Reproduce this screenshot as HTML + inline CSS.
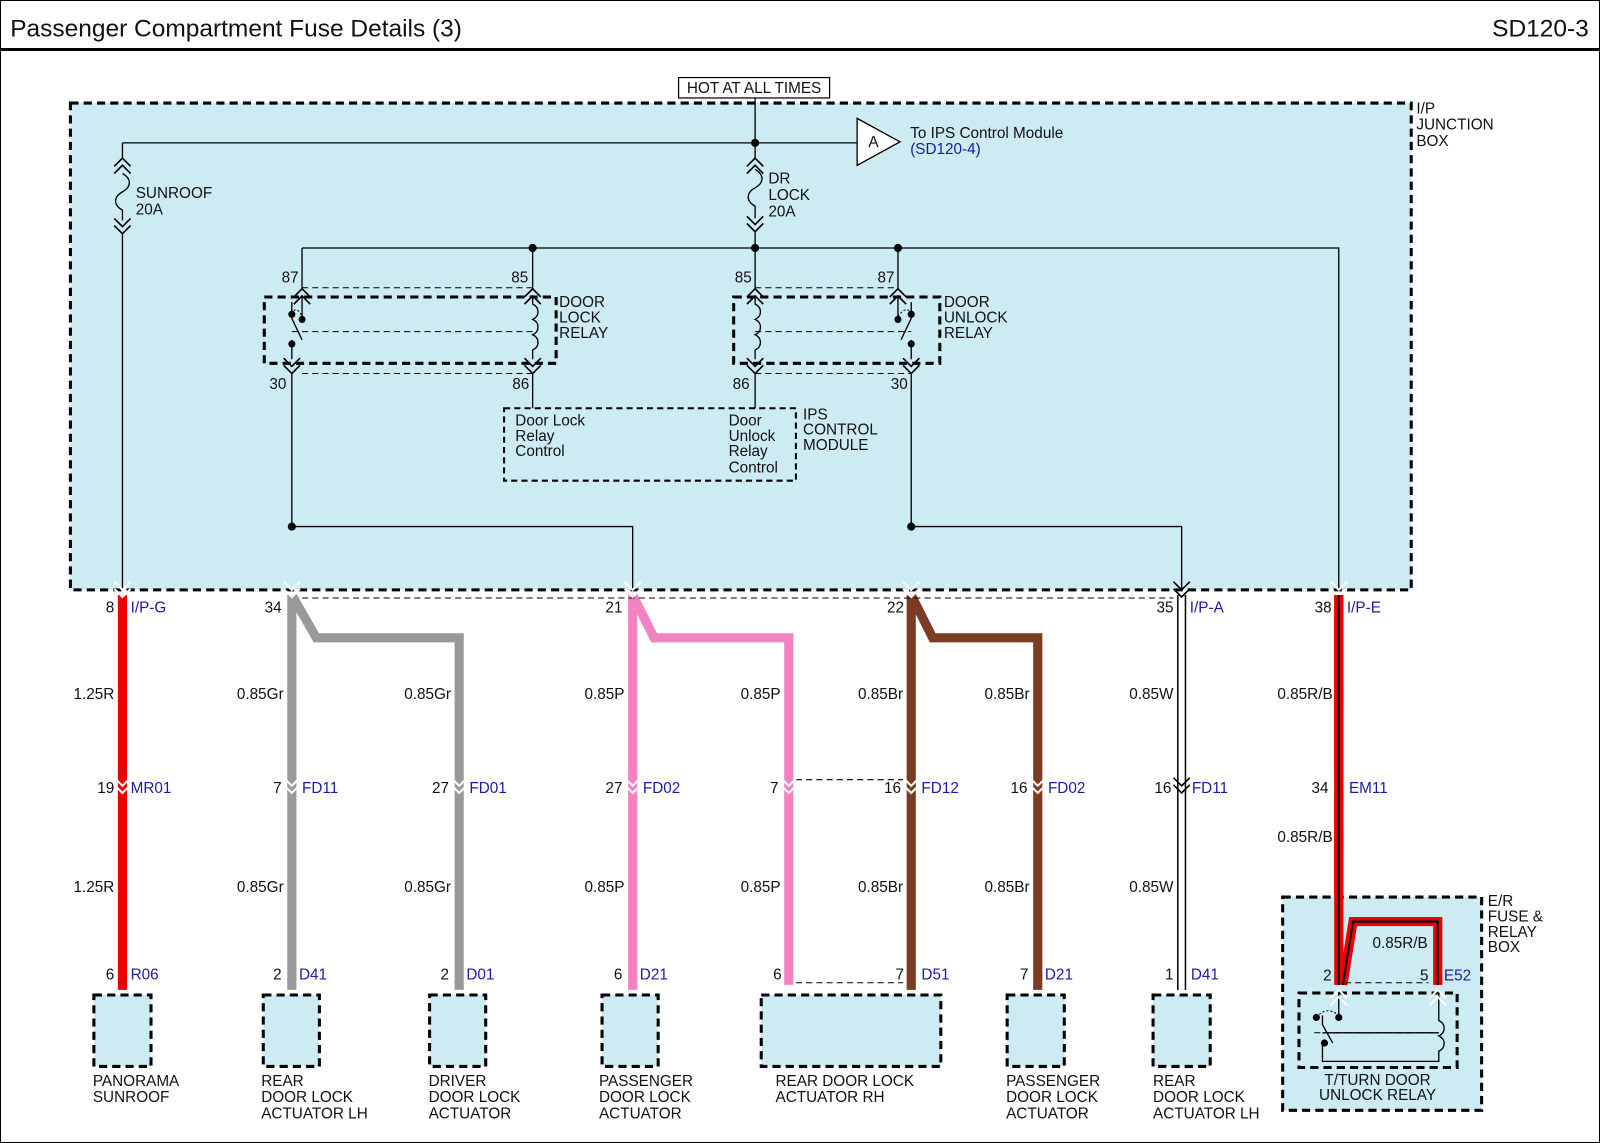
<!DOCTYPE html>
<html><head><meta charset="utf-8"><style>
html,body{margin:0;padding:0;background:#fff}
svg{display:block}
text{font-family:"Liberation Sans",Arial,sans-serif;font-size:15px;fill:#111}
.b{fill:#1a1aa8}
.r{text-anchor:end}
.m{text-anchor:middle}
</style></head><body>
<svg width="1600" height="1143" viewBox="0 0 1568 1120" preserveAspectRatio="none" xmlns="http://www.w3.org/2000/svg">
<defs>
<g id="cd"><path d="M-8,-8 L0,0 L8,-8 M-8,-1 L0,7 L8,-1" fill="none" stroke="#000" stroke-width="1.6"/></g>
<g id="cw"><path d="M-8,-8 L0,0 L8,-8 M-8,-1 L0,7 L8,-1" fill="none" stroke="#fff" stroke-width="2"/></g>
<g id="cu"><path d="M-8,8 L0,0 L8,8 M-8,15 L0,7 L8,15" fill="none" stroke="#000" stroke-width="1.6"/></g>
</defs>
<rect x="0.5" y="0.5" width="1567" height="1119" fill="#fff" stroke="#000" stroke-width="1"/>
<text x="10" y="36" style="font-size:24px">Passenger Compartment Fuse Details (3)</text>
<text x="1557" y="36" class="r" style="font-size:24px">SD120-3</text>
<line x1="0" y1="48.5" x2="1568" y2="48.5" stroke="#000" stroke-width="3"/>

<rect x="69" y="101" width="1314" height="477" fill="#cdebf3" stroke="#000" stroke-width="3" stroke-dasharray="8,5"/>
<text x="1388" y="111">I/P</text><text x="1388" y="127">JUNCTION</text><text x="1388" y="143">BOX</text>
<rect x="665" y="76" width="148" height="20" fill="#fff" stroke="#000" stroke-width="1.2"/>
<text x="739" y="91" class="m">HOT AT ALL TIMES</text>

<g stroke="#000" stroke-width="1.3" fill="none">
<path d="M740,96 V155 M120,140 H840 M120,140 V155 M120,228 V578 M740,226 V243"/>
<path d="M120,170 c9,5 9,13 0,18 c-9,5 -9,13 0,18 V216"/>
<path d="M740,166 c9,5 9,13 0,18 c-9,5 -9,13 0,18 V214"/>
<path d="M840,116 L882,139 L840,162 Z" fill="#fff"/>
<path d="M296,243 H1312 V578 M296,243 V283 M522,243 V283 M740,243 V283 M880,243 V283"/>
<path d="M522,366 V400 M740,366 V400"/>
<path d="M286,366 V516 H620 V578 M893,366 V516 H1158 V578"/>
</g>
<use href="#cu" x="120" y="155"/><use href="#cd" x="120" y="222"/>
<use href="#cu" x="740" y="155"/><use href="#cd" x="740" y="220"/>
<text x="856" y="144" class="m">A</text>
<text x="892" y="135">To IPS Control Module</text>
<text x="892" y="151" class="b">(SD120-4)</text>
<text x="133" y="194">SUNROOF</text><text x="133" y="210">20A</text>
<text x="753" y="180">DR</text><text x="753" y="196">LOCK</text><text x="753" y="212">20A</text>
<g fill="#000"><circle cx="740" cy="140" r="4"/><circle cx="522" cy="243" r="4"/><circle cx="740" cy="243" r="4"/><circle cx="880" cy="243" r="4"/><circle cx="286" cy="516" r="4"/><circle cx="893" cy="516" r="4"/></g>

<g stroke="#000" fill="none">
<rect x="259" y="291" width="286" height="65" stroke-width="3" stroke-dasharray="8,5"/>
<rect x="719" y="291" width="202" height="65" stroke-width="3" stroke-dasharray="8,5"/>
<path d="M296,282 H522 M286,325 H522 M296,366 H522 M740,282 H880 M740,325 H893 M740,366 H893" stroke-width="1" stroke-dasharray="6,4"/>
<path d="M296,290 V313 M286,296 V312 L296,333 M286,333 V352 M522,290 V298 c7,3 7,12 0,15 c7,3 7,12 0,15 c7,3 7,12 0,15 V352" stroke-width="1.3"/>
<path d="M880,290 V313 M893,296 V312 L883,333 M893,333 V352 M740,290 V298 c7,3 7,12 0,15 c7,3 7,12 0,15 c7,3 7,12 0,15 V352" stroke-width="1.3"/>
<path d="M286,308 Q290,298 296,310 M893,308 Q889,298 880,310" stroke-width="1" stroke-dasharray="2,2"/>
<rect x="494" y="400" width="286" height="71" stroke-width="2" stroke-dasharray="6,4"/>
</g>
<g fill="#000"><circle cx="286" cy="308" r="3.5"/><circle cx="296" cy="313" r="3.5"/><circle cx="286" cy="337" r="3.5"/><circle cx="893" cy="308" r="3.5"/><circle cx="880" cy="313" r="3.5"/><circle cx="893" cy="337" r="3.5"/></g>
<use href="#cu" x="296" y="283"/><use href="#cu" x="522" y="283"/><use href="#cu" x="740" y="283"/><use href="#cu" x="880" y="283"/>
<use href="#cd" x="286" y="359"/><use href="#cd" x="522" y="359"/><use href="#cd" x="740" y="359"/><use href="#cd" x="893" y="359"/>
<text x="276" y="277">87</text><text x="501" y="277">85</text><text x="720" y="277">85</text><text x="860" y="277">87</text>
<text x="264" y="381">30</text><text x="502" y="381">86</text><text x="718" y="381">86</text><text x="873" y="381">30</text>
<text x="548" y="301">DOOR</text><text x="548" y="316">LOCK</text><text x="548" y="331">RELAY</text>
<text x="925" y="301">DOOR</text><text x="925" y="316">UNLOCK</text><text x="925" y="331">RELAY</text>
<text x="505" y="417">Door Lock</text><text x="505" y="432">Relay</text><text x="505" y="447">Control</text>
<text x="714" y="417">Door</text><text x="714" y="432">Unlock</text><text x="714" y="447">Relay</text><text x="714" y="463">Control</text>
<text x="787" y="411">IPS</text><text x="787" y="426">CONTROL</text><text x="787" y="441">MODULE</text>

<g fill="none" stroke-linejoin="miter">
<path d="M120,583 V970" stroke="#e00" stroke-width="9"/>
<path d="M286,583 V970 M286,583 L310,625 H450 V970" stroke="#999" stroke-width="9"/>
<path d="M620,583 V970 M620,583 L641,625 H773 V965" stroke="#f283c0" stroke-width="9"/>
<path d="M893,583 V970 M893,583 L914,625 H1017 V970" stroke="#7a3d24" stroke-width="9"/>
<path d="M1158,583 V970" stroke="#000" stroke-width="9"/>
<path d="M1158,583 V970" stroke="#fff" stroke-width="6"/>
<path d="M1312,583 V965" stroke="#e00" stroke-width="9"/>
<path d="M1312,583 V965" stroke="#000" stroke-width="2"/>
<path d="M296,586 H1150 M780,764 H885 M780,963 H885" stroke="#000" stroke-width="1" stroke-dasharray="6,4"/>
</g>
<g>
<use href="#cw" x="120" y="578"/><use href="#cw" x="286" y="578"/><use href="#cw" x="620" y="578"/><use href="#cw" x="893" y="578"/><use href="#cd" x="1158" y="578"/><use href="#cw" x="1312" y="578"/>
<use href="#cw" x="120" y="770"/><use href="#cw" x="286" y="770"/><use href="#cw" x="450" y="770"/><use href="#cw" x="620" y="770"/><use href="#cw" x="773" y="770"/><use href="#cw" x="893" y="770"/><use href="#cw" x="1017" y="770"/><use href="#cd" x="1158" y="770"/>
<path d="M1304,778 L1312,770 L1320,778 M1304,771 L1312,763 L1320,771" fill="none" stroke="#fff" stroke-width="2"/>
</g>
<g>
<text x="112" y="600" class="r">8</text><text x="128" y="600" class="b">I/P-G</text>
<text x="276" y="600" class="r">34</text><text x="610" y="600" class="r">21</text><text x="886" y="600" class="r">22</text>
<text x="1150" y="600" class="r">35</text><text x="1166" y="600" class="b">I/P-A</text>
<text x="1305" y="600" class="r">38</text><text x="1320" y="600" class="b">I/P-E</text>
<text x="112" y="685" class="r">1.25R</text><text x="278" y="685" class="r">0.85Gr</text><text x="442" y="685" class="r">0.85Gr</text>
<text x="612" y="685" class="r">0.85P</text><text x="765" y="685" class="r">0.85P</text><text x="885" y="685" class="r">0.85Br</text>
<text x="1009" y="685" class="r">0.85Br</text><text x="1150" y="685" class="r">0.85W</text><text x="1306" y="685" class="r">0.85R/B</text>
<text x="112" y="777" class="r">19</text><text x="128" y="777" class="b">MR01</text>
<text x="276" y="777" class="r">7</text><text x="296" y="777" class="b">FD11</text>
<text x="440" y="777" class="r">27</text><text x="460" y="777" class="b">FD01</text>
<text x="610" y="777" class="r">27</text><text x="630" y="777" class="b">FD02</text>
<text x="763" y="777" class="r">7</text>
<text x="883" y="777" class="r">16</text><text x="903" y="777" class="b">FD12</text>
<text x="1007" y="777" class="r">16</text><text x="1027" y="777" class="b">FD02</text>
<text x="1148" y="777" class="r">16</text><text x="1168" y="777" class="b">FD11</text>
<text x="1302" y="777" class="r">34</text><text x="1322" y="777" class="b">EM11</text>
<text x="1306" y="825" class="r">0.85R/B</text>
<text x="112" y="874" class="r">1.25R</text><text x="278" y="874" class="r">0.85Gr</text><text x="442" y="874" class="r">0.85Gr</text>
<text x="612" y="874" class="r">0.85P</text><text x="765" y="874" class="r">0.85P</text><text x="885" y="874" class="r">0.85Br</text>
<text x="1009" y="874" class="r">0.85Br</text><text x="1150" y="874" class="r">0.85W</text>
<text x="112" y="960" class="r">6</text><text x="128" y="960" class="b">R06</text>
<text x="276" y="960" class="r">2</text><text x="293" y="960" class="b">D41</text>
<text x="440" y="960" class="r">2</text><text x="457" y="960" class="b">D01</text>
<text x="610" y="960" class="r">6</text><text x="627" y="960" class="b">D21</text>
<text x="766" y="960" class="r">6</text>
<text x="886" y="960" class="r">7</text><text x="903" y="960" class="b">D51</text>
<text x="1008" y="960" class="r">7</text><text x="1024" y="960" class="b">D21</text>
<text x="1150" y="960" class="r">1</text><text x="1167" y="960" class="b">D41</text>
</g>

<g fill="#cdebf3" stroke="#000" stroke-width="3" stroke-dasharray="8,5">
<rect x="92" y="975" width="56" height="70"/><rect x="258" y="975" width="55" height="70"/><rect x="421" y="975" width="55" height="70"/>
<rect x="590" y="975" width="55" height="70"/><rect x="746" y="975" width="176" height="70"/><rect x="987" y="975" width="56" height="70"/>
<rect x="1130" y="975" width="56" height="70"/>
</g>
<g>
<text x="91" y="1064">PANORAMA</text><text x="91" y="1080">SUNROOF</text>
<text x="256" y="1064">REAR</text><text x="256" y="1080">DOOR LOCK</text><text x="256" y="1096">ACTUATOR LH</text>
<text x="420" y="1064">DRIVER</text><text x="420" y="1080">DOOR LOCK</text><text x="420" y="1096">ACTUATOR</text>
<text x="587" y="1064">PASSENGER</text><text x="587" y="1080">DOOR LOCK</text><text x="587" y="1096">ACTUATOR</text>
<text x="760" y="1064">REAR DOOR LOCK</text><text x="760" y="1080">ACTUATOR RH</text>
<text x="986" y="1064">PASSENGER</text><text x="986" y="1080">DOOR LOCK</text><text x="986" y="1096">ACTUATOR</text>
<text x="1130" y="1064">REAR</text><text x="1130" y="1080">DOOR LOCK</text><text x="1130" y="1096">ACTUATOR LH</text>
</g>

<rect x="1257" y="879" width="195" height="209" fill="#cdebf3" stroke="#000" stroke-width="3" stroke-dasharray="8,5"/>
<g fill="none" stroke="#000">
<path d="M1316,965 L1326,903 H1409 V965 M1312,583 V965" stroke="#e00" stroke-width="9"/>
<path d="M1316,965 L1326,903 H1409 V965 M1312,583 V965" stroke="#000" stroke-width="2"/>
<path d="M1318,963 H1400" stroke-width="1" stroke-dasharray="6,4"/>
<rect x="1273" y="973" width="155" height="73" stroke-width="3" stroke-dasharray="8,5"/>
<path d="M1312,972 V997 M1296,995 V1004 L1306,1022 M1296,1022 V1040 H1410 V1030 c7,-3 7,-12 0,-15 c7,-3 7,-12 0,-15 V972 M1296,1012 H1410" stroke-width="1.3"/>
<path d="M1288,1012 H1410" stroke-width="1" stroke-dasharray="6,4"/>
<path d="M1290,997 Q1300,985 1312,995" stroke-width="1" stroke-dasharray="2,2"/>
</g>
<g fill="#000"><circle cx="1290" cy="997" r="3.5"/><circle cx="1312" cy="997" r="3.5"/><circle cx="1298" cy="1022" r="3.5"/></g>
<path d="M1304,978 L1312,970 L1320,978 M1304,985 L1312,977 L1320,985 M1401,978 L1409,970 L1417,978 M1401,985 L1409,977 L1417,985" fill="none" stroke="#fff" stroke-width="2"/>
<text x="1345" y="929">0.85R/B</text>
<text x="1305" y="961" class="r">2</text><text x="1400" y="961" class="r">5</text><text x="1415" y="961" class="b">E52</text>
<text x="1458" y="888">E/R</text><text x="1458" y="903">FUSE &amp;</text><text x="1458" y="918">RELAY</text><text x="1458" y="933">BOX</text>
<text x="1350" y="1063" class="m">T/TURN DOOR</text><text x="1350" y="1078" class="m">UNLOCK RELAY</text>
</svg>
</body></html>
